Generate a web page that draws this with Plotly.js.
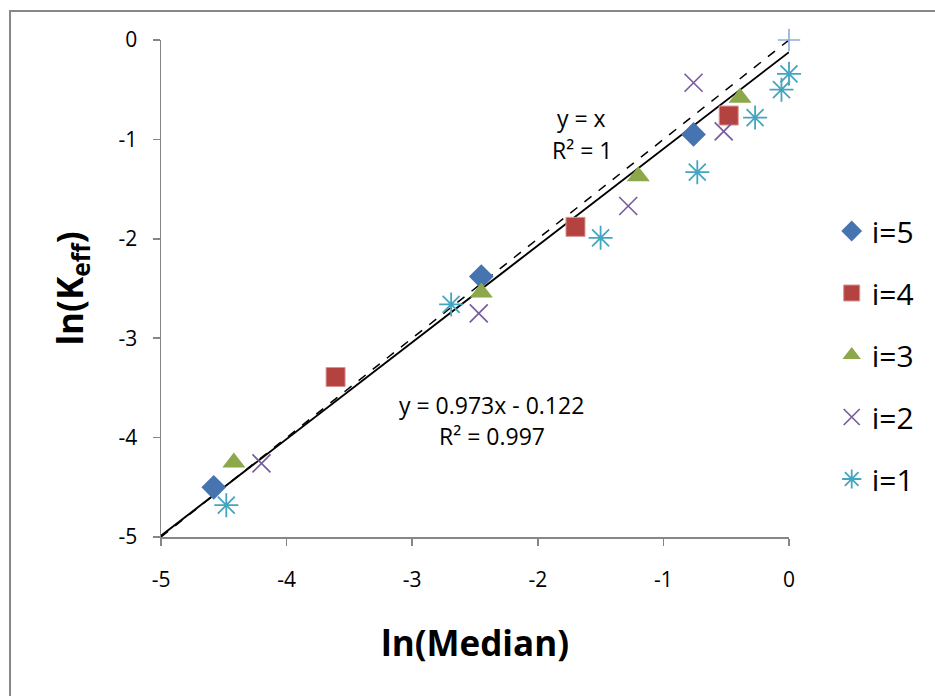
<!DOCTYPE html>
<html>
<head>
<meta charset="utf-8">
<script src="https://cdn.plot.ly/plotly-3.0.1.min.js"></script>
<style>html,body{margin:0;padding:0;background:#fff;}#chart{width:935px;height:696px;}</style>
</head>
<body>
<div id="chart"></div>
<script>
// ---- data ----
const i5_x = [-4.58, -2.45, -0.76];
const i5_y = [-4.50, -2.38, -0.95];
const i4_x = [-3.61, -1.70, -0.48];
const i4_y = [-3.39, -1.88, -0.76];
const i3_x = [-4.42, -2.45, -1.20, -0.39];
const i3_y = [-4.25, -2.54, -1.37, -0.58];
const i2_x = [-4.20, -2.47, -1.28, -0.76, -0.52];
const i2_y = [-4.26, -2.75, -1.67, -0.43, -0.92];
const i1_x = [-4.48, -2.69, -1.50, -0.73, -0.27, -0.06, 0.00];
const i1_y = [-4.68, -2.66, -1.99, -1.33, -0.78, -0.50, -0.34];
const identX = [-5, 0];
const identY = [-5, 0];
const fitSlope = 0.973;
const fitIntercept = -0.122;
const fitX = [-5, 0];
const tickVals = [-5, -4, -3, -2, -1, 0];
const tickText = ['-5', '-4', '-3', '-2', '-1', '0'];
const seriesNames = ['i=5', 'i=4', 'i=3', 'i=2', 'i=1'];

const FONT = 'Open Sans, Noto Sans, sans-serif';
const fitY = fitX.map(v => fitSlope * v + fitIntercept);

const traces = [
  {x: identX, y: identY, mode: 'lines', line: {color: '#000', width: 1.5, dash: 'dash'}, showlegend: false, hoverinfo: 'skip'},
  {x: fitX, y: fitY, mode: 'lines', line: {color: '#000', width: 1.9}, showlegend: false, hoverinfo: 'skip'},
  {x: [identX[1]], y: [identY[1]], mode: 'markers', marker: {symbol: 'cross-thin-open', size: 16, color: '#8EABD8', line: {color: '#8EABD8', width: 1.6}}, showlegend: false, cliponaxis: false},
  {x: i5_x, y: i5_y, name: seriesNames[0], legendgroup: 'g5', mode: 'markers', marker: {symbol: 'diamond', size: 19, color: '#4674B0'}},
  {x: i4_x, y: i4_y, name: seriesNames[1], legendgroup: 'g4', mode: 'markers', marker: {symbol: 'square', size: 19, color: '#B4433F', line: {color: '#D99594', width: 1}}},
  {x: i3_x, y: i3_y, name: seriesNames[2], legendgroup: 'g3', mode: 'markers', marker: {symbol: 'triangle-up', size: 20, color: '#8CA84B'}},
  {x: i2_x, y: i2_y, name: seriesNames[3], legendgroup: 'g2', mode: 'markers', marker: {symbol: 'x-thin-open', size: 18, color: '#7A5C9E', line: {color: '#7A5C9E', width: 1.7}}},
  {x: i1_x, y: i1_y, name: seriesNames[4], legendgroup: 'g1', mode: 'markers', cliponaxis: false, marker: {symbol: 'asterisk-open', size: 20, color: '#43A5C0', line: {color: '#43A5C0', width: 1.8}}}
];

const layout = {
  width: 935, height: 696,
  margin: {l: 161, r: 146, t: 40, b: 159},
  paper_bgcolor: '#fff', plot_bgcolor: '#fff',
  font: {family: FONT, color: '#000'},
  xaxis: {
    range: [-5, 0], tickvals: tickVals, ticktext: tickText,
    showgrid: false, zeroline: false, showline: true, linecolor: '#868686', linewidth: 1.5,
    ticks: 'outside', ticklen: 7, tickcolor: '#868686', tickwidth: 1.5,
    tickfont: {size: 21, family: FONT}, ticklabelstandoff: 16,
    title: {text: 'ln(Median)', font: {size: 35, family: FONT, weight: 'bold'}, standoff: 40},
    automargin: false
  },
  yaxis: {
    range: [-5, 0], tickvals: tickVals, ticktext: tickText,
    showgrid: false, zeroline: false, showline: true, linecolor: '#868686', linewidth: 1.5,
    ticks: 'outside', ticklen: 7, tickcolor: '#868686', tickwidth: 1.5,
    tickfont: {size: 21, family: FONT}, ticklabelstandoff: 11,
    title: {text: 'ln(K<sub>eff</sub>)', font: {size: 35, family: FONT, weight: 'bold'}, standoff: 24},
    automargin: false
  },
  legend: {
    x: 1.068, xanchor: 'left', y: 0.668, yanchor: 'top',
    font: {size: 30, family: FONT}, traceorder: 'grouped', tracegroupgap: 20,
    bgcolor: 'rgba(0,0,0,0)', itemwidth: 30
  },
  annotations: [
    {x: -1.65, y: -0.785, xref: 'x', yref: 'y', text: 'y = x', showarrow: false, font: {size: 23, family: FONT}},
    {x: -1.65, y: -1.107, xref: 'x', yref: 'y', text: 'R² = 1', showarrow: false, font: {size: 23, family: FONT}},
    {x: -2.365, y: -3.672, xref: 'x', yref: 'y', text: 'y = 0.973x - 0.122', showarrow: false, font: {size: 23, family: FONT}},
    {x: -2.365, y: -3.984, xref: 'x', yref: 'y', text: 'R² = 0.997', showarrow: false, font: {size: 23, family: FONT}}
  ],
  shapes: [
    {type: 'rect', xref: 'paper', yref: 'paper', x0: -0.2404, x1: 2, y0: -1, y1: 1.0584, line: {color: '#878787', width: 2}, layer: 'below'}
  ],
  showlegend: true
};

Plotly.newPlot('chart', traces, layout, {staticPlot: true});
</script>
</body>
</html>
